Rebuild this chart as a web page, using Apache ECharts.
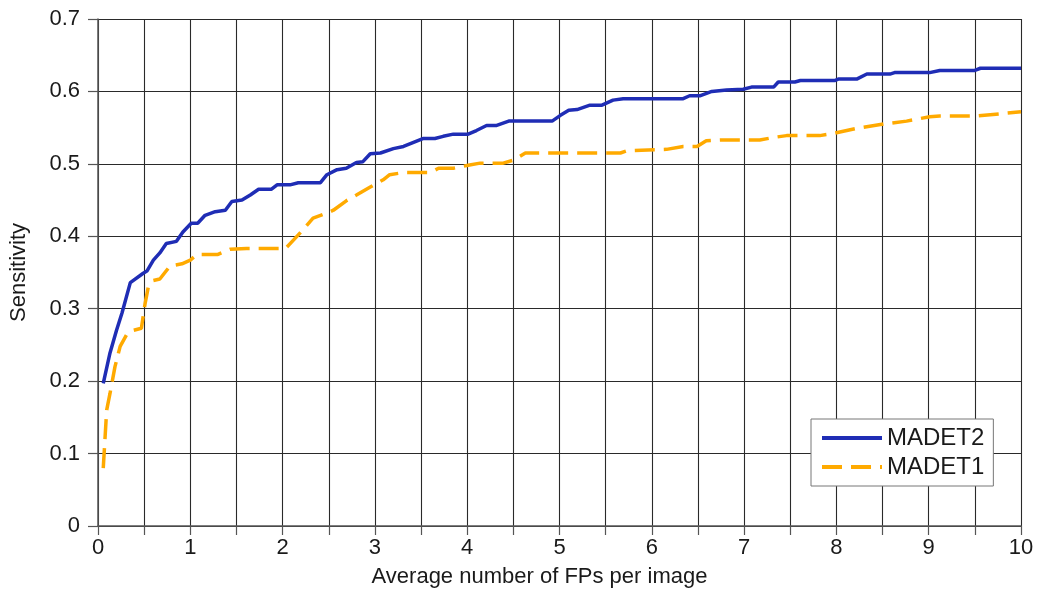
<!DOCTYPE html>
<html>
<head>
<meta charset="utf-8">
<script src="https://cdn.jsdelivr.net/npm/echarts@6/dist/echarts.min.js"></script>
<style>
html,body{margin:0;padding:0;background:#fff;}
#chart{width:1042px;height:593px;}
</style>
</head>
<body>
<div id="chart"></div>
<script>
// Data
var seriesNames = ['MADET2', 'MADET1'];
var xTickLabels = ['0','1','2','3','4','5','6','7','8','9','10'];
var yTickLabels = ['0','0.1','0.2','0.3','0.4','0.5','0.6','0.7'];

var madet2 = [[0.057,0.197],[0.13,0.239],[0.2,0.27],[0.26,0.294],[0.35,0.336],[0.49,0.349],[0.53,0.352],[0.6,0.367],[0.67,0.377],[0.74,0.39],[0.85,0.393],[0.92,0.406],[1.01,0.418],[1.08,0.418],[1.16,0.429],[1.27,0.434],[1.38,0.436],[1.45,0.448],[1.56,0.45],[1.65,0.457],[1.74,0.465],[1.88,0.465],[1.94,0.471],[2.08,0.471],[2.17,0.474],[2.41,0.474],[2.48,0.485],[2.59,0.492],[2.69,0.494],[2.8,0.502],[2.87,0.503],[2.95,0.514],[3.06,0.515],[3.2,0.521],[3.31,0.524],[3.52,0.535],[3.65,0.535],[3.74,0.538],[3.85,0.541],[4.01,0.541],[4.1,0.546],[4.21,0.553],[4.32,0.553],[4.45,0.559],[4.92,0.559],[5.01,0.567],[5.1,0.574],[5.19,0.575],[5.33,0.581],[5.46,0.581],[5.58,0.588],[5.69,0.59],[6.34,0.59],[6.41,0.594],[6.52,0.594],[6.65,0.6],[6.81,0.602],[6.99,0.603],[7.08,0.606],[7.32,0.606],[7.37,0.613],[7.55,0.613],[7.61,0.615],[7.98,0.615],[8.02,0.617],[8.22,0.617],[8.33,0.624],[8.58,0.624],[8.63,0.626],[9.01,0.626],[9.12,0.629],[9.5,0.629],[9.56,0.632],[10,0.632]];

var madet1 = [[0.057,0.08],[0.094,0.16],[0.13,0.183],[0.184,0.22],[0.24,0.248],[0.31,0.264],[0.38,0.27],[0.47,0.273],[0.51,0.307],[0.545,0.33],[0.6,0.339],[0.67,0.341],[0.78,0.359],[0.91,0.362],[1.0,0.367],[1.07,0.375],[1.3,0.375],[1.43,0.382],[1.61,0.383],[2.03,0.383],[2.12,0.395],[2.22,0.409],[2.33,0.425],[2.48,0.432],[2.55,0.436],[2.69,0.449],[2.8,0.457],[2.95,0.468],[3.09,0.478],[3.16,0.485],[3.31,0.488],[3.6,0.488],[3.69,0.494],[3.85,0.494],[4.01,0.498],[4.14,0.501],[4.39,0.501],[4.5,0.505],[4.63,0.515],[5.66,0.515],[5.73,0.518],[6.16,0.52],[6.34,0.524],[6.49,0.524],[6.59,0.532],[6.74,0.533],[7.17,0.533],[7.35,0.537],[7.46,0.539],[7.82,0.539],[7.97,0.542],[8.22,0.549],[8.51,0.555],[8.76,0.559],[9.01,0.565],[9.12,0.566],[9.52,0.566],[9.77,0.569],[10,0.572]];

var FONT = '"Liberation Sans", Arial, sans-serif';
var chart = echarts.init(document.getElementById('chart'), null, {renderer: 'canvas'});
chart.setOption({
  animation: false,
  backgroundColor: '#ffffff',
  textStyle: {fontFamily: FONT},
  grid: {left: 98, right: 21, top: 19, bottom: 67, containLabel: false, show: false},
  legend: {
    data: seriesNames,
    orient: 'vertical',
    left: 811, top: 419,
    padding: [7, 9, 7, 9],
    itemGap: 5,
    itemWidth: 60,
    itemHeight: 14,
    itemTextGap: 7,
    backgroundColor: '#ffffff',
    borderColor: '#777777',
    borderWidth: 1,
    borderRadius: 0,
    itemStyle: {opacity: 0, borderWidth: 0},
    lineStyle: {width: 4},
    textStyle: {fontFamily: FONT, fontSize: 24, color: '#1a1a1a'}
  },
  xAxis: {
    type: 'value',
    min: 0, max: 10, interval: 1,
    name: 'Average number of FPs per image',
    nameLocation: 'middle',
    nameGap: 40,
    nameTextStyle: {fontFamily: FONT, fontSize: 22, color: '#1a1a1a', padding: [0, 40, 0, 0]},
    axisLine: {show: true, lineStyle: {color: '#555555', width: 1.5}},
    axisTick: {show: true, length: 9, lineStyle: {color: '#555555', width: 1.2}},
    minorTick: {show: true, splitNumber: 2, length: 9, lineStyle: {color: '#555555', width: 1.2}},
    minorSplitLine: {show: true, lineStyle: {color: '#2a2a2a', width: 1.1}},
    splitLine: {show: true, lineStyle: {color: '#2a2a2a', width: 1.1}},
    axisLabel: {
      fontFamily: FONT, fontSize: 22, color: '#1a1a1a', margin: 11,
      formatter: function (v) { return xTickLabels[Math.round(v)]; }
    }
  },
  yAxis: {
    type: 'value',
    min: 0, max: 0.7, interval: 0.1,
    name: 'Sensitivity',
    nameLocation: 'middle',
    nameGap: 68,
    nameTextStyle: {fontFamily: FONT, fontSize: 22, color: '#1a1a1a'},
    axisLine: {show: true, lineStyle: {color: '#555555', width: 1.5}},
    axisTick: {show: true, length: 10, lineStyle: {color: '#555555', width: 1.2}},
    splitLine: {show: true, lineStyle: {color: '#2a2a2a', width: 1.1}},
    axisLabel: {
      fontFamily: FONT, fontSize: 22, color: '#1a1a1a', margin: 18,
      formatter: function (v) { return yTickLabels[Math.round(v * 10)]; }
    }
  },
  series: [
    {
      name: seriesNames[0], type: 'line', data: madet2,
      symbol: 'none', smooth: false,
      lineStyle: {color: '#1f2db5', width: 3.5},
      itemStyle: {color: '#1f2db5'},
      z: 3
    },
    {
      name: seriesNames[1], type: 'line', data: madet1,
      symbol: 'none', smooth: false,
      lineStyle: {color: '#ffaa00', width: 3.5, type: [20, 9]},
      itemStyle: {color: '#ffaa00'},
      z: 2
    }
  ]
});
</script>
</body>
</html>
